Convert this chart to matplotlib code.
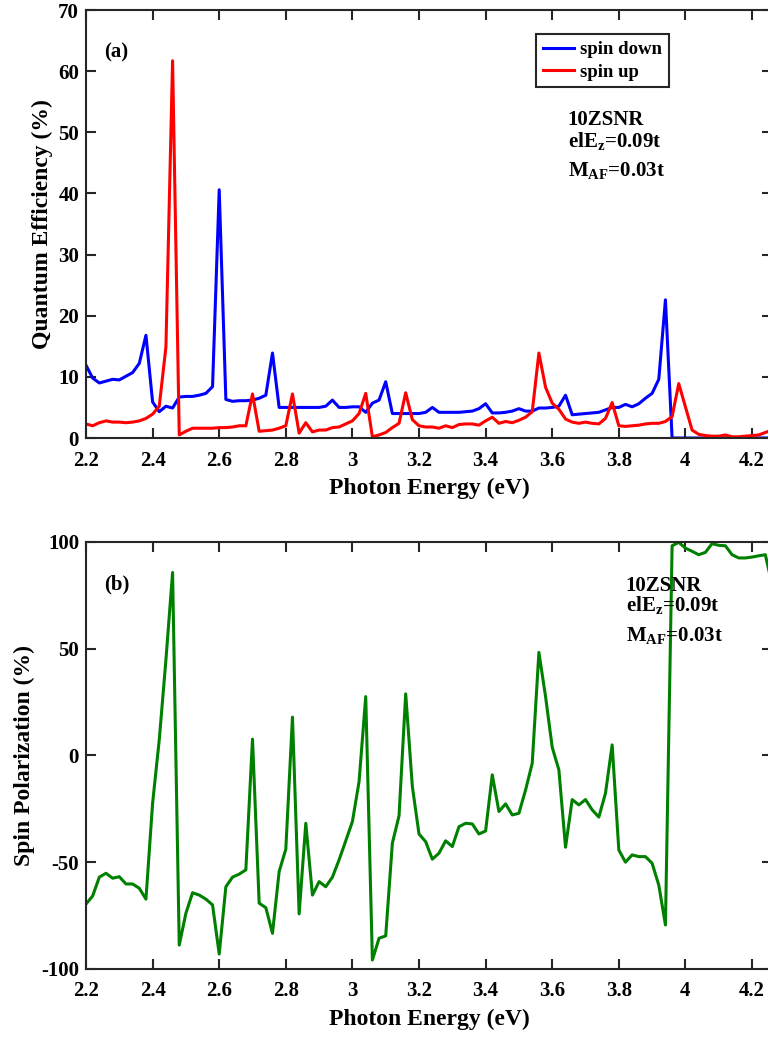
import numpy as np
import matplotlib
matplotlib.use('Agg')
import matplotlib.pyplot as plt

# ============================================================
# DONNEES
# ============================================================

energie = [2.20, 2.22, 2.24, 2.26, 2.28, 2.30, 2.32, 2.34, 2.36, 2.38,
           2.40, 2.42, 2.44, 2.46, 2.48, 2.50, 2.52, 2.54, 2.56, 2.58,
           2.60, 2.62, 2.64, 2.66, 2.68, 2.70, 2.72, 2.74, 2.76, 2.78,
           2.80, 2.82, 2.84, 2.86, 2.88, 2.90, 2.92, 2.94, 2.96, 2.98,
           3.00, 3.02, 3.04, 3.06, 3.08, 3.10, 3.12, 3.14, 3.16, 3.18,
           3.20, 3.22, 3.24, 3.26, 3.28, 3.30, 3.32, 3.34, 3.36, 3.38,
           3.40, 3.42, 3.44, 3.46, 3.48, 3.50, 3.52, 3.54, 3.56, 3.58,
           3.60, 3.62, 3.64, 3.66, 3.68, 3.70, 3.72, 3.74, 3.76, 3.78,
           3.80, 3.82, 3.84, 3.86, 3.88, 3.90, 3.92, 3.94, 3.96, 3.98,
           4.00, 4.02, 4.04, 4.06, 4.08, 4.10, 4.12, 4.14, 4.16, 4.18,
           4.20, 4.22, 4.24, 4.26]

spin_down = [11.9, 9.8, 9.0, 9.3, 9.6, 9.5, 10.1, 10.7, 12.2, 16.8,
             5.9, 4.3, 5.2, 4.9, 6.7, 6.8, 6.8, 7.0, 7.3, 8.4,
             40.6, 6.3, 6.0, 6.1, 6.1, 6.2, 6.5, 7.0, 13.9, 5.0,
             5.0, 5.0, 5.0, 5.0, 5.0, 5.0, 5.2, 6.2, 5.0, 5.0,
             5.1, 5.1, 4.2, 5.7, 6.2, 9.2, 4.0, 4.0, 4.0, 4.0,
             4.0, 4.2, 5.0, 4.2, 4.2, 4.2, 4.2, 4.3, 4.4, 4.8,
             5.6, 4.1, 4.1, 4.2, 4.4, 4.8, 4.4, 4.4, 4.9, 4.9,
             5.0, 5.2, 7.0, 3.8, 3.9, 4.0, 4.1, 4.2, 4.6, 5.0,
             5.0, 5.5, 5.1, 5.6, 6.5, 7.3, 9.6, 22.6, 0.0, 0.0,
             0.0, 0.0, 0.0, 0.0, 0.0, 0.0, 0.0, 0.0, 0.0, 0.0,
             0.0, 0.0, 0.0, 0.0]

spin_up = [2.3, 2.0, 2.5, 2.8, 2.6, 2.6, 2.5, 2.6, 2.8, 3.2,
           3.9, 5.2, 14.9, 61.7, 0.5, 1.1, 1.6, 1.6, 1.6, 1.6,
           1.7, 1.7, 1.8, 2.0, 2.0, 7.2, 1.1, 1.2, 1.3, 1.6,
           2.0, 7.2, 0.8, 2.5, 1.0, 1.3, 1.3, 1.7, 1.8, 2.3,
           2.8, 4.0, 7.3, 0.2, 0.5, 0.9, 1.7, 2.4, 7.4, 3.0,
           2.0, 1.8, 1.8, 1.6, 2.0, 1.7, 2.2, 2.3, 2.3, 2.1,
           2.8, 3.4, 2.4, 2.7, 2.5, 2.9, 3.4, 4.3, 13.9, 8.3,
           5.7, 4.7, 3.1, 2.6, 2.4, 2.6, 2.4, 2.3, 3.2, 5.8,
           2.0, 1.9, 2.0, 2.1, 2.3, 2.4, 2.4, 2.7, 3.5, 8.9,
           5.1, 1.3, 0.6, 0.4, 0.3, 0.3, 0.5, 0.2, 0.2, 0.3,
           0.4, 0.5, 0.9, 1.3]

polarisation = [-69.6, -65.8, -57.0, -55.2, -57.5, -56.8, -60.2, -60.2, -62.2, -67.3,
                -22.4, 7.3, 44.7, 85.6, -88.8, -73.9, -64.3, -65.4, -67.3, -70.0,
                -93.0, -61.5, -57.0, -55.6, -53.6, 7.6, -69.2, -71.3, -83.3, -54.4,
                -43.9, 17.9, -74.2, -31.8, -65.4, -59.1, -61.5, -57.0, -48.9, -40.0,
                -31.0, -12.3, 27.5, -95.8, -85.6, -84.5, -41.1, -28.3, 28.8, -14.6,
                -36.8, -40.4, -48.6, -45.8, -40.0, -42.7, -33.4, -31.8, -32.1, -36.8,
                -35.4, -9.1, -26.3, -22.7, -27.9, -27.1, -16.2, -3.7, 48.2, 27.5,
                3.8, -6.8, -43.0, -20.7, -23.2, -20.7, -25.5, -28.9, -17.7, 4.9,
                -44.3, -50.0, -46.6, -47.4, -47.4, -50.5, -60.7, -79.4, 98.1, 99.7,
                97.0, 95.5, 93.9, 95.0, 99.1, 98.3, 98.1, 93.9, 92.4, 92.4,
                92.8, 93.4, 93.9, 80.0]

x_ticks        = [2.2, 2.4, 2.6, 2.8, 3.0, 3.2, 3.4, 3.6, 3.8, 4.0, 4.2]
x_tick_labels  = ['2.2', '2.4', '2.6', '2.8', '3', '3.2', '3.4', '3.6', '3.8', '4', '4.2']
y_ticks_a      = [0, 10, 20, 30, 40, 50, 60, 70]
y_ticks_b      = [-100, -50, 0, 50, 100]

# ============================================================
# STYLE
# ============================================================

plt.rcParams['font.family'] = ['Liberation Serif', 'DejaVu Serif']
plt.rcParams['font.weight'] = 'bold'
plt.rcParams['axes.unicode_minus'] = False
plt.rcParams['mathtext.fontset'] = 'custom'
plt.rcParams['mathtext.rm'] = 'Liberation Serif:bold'
plt.rcParams['mathtext.bf'] = 'Liberation Serif:bold'
plt.rcParams['mathtext.it'] = 'Liberation Serif:bold'

bleu  = '#0000FF'
rouge = '#FF0000'
vert  = '#008000'
axe   = '#262626'

fs_tick  = 15
fs_label = 17
fs_txt   = 15
fs_leg   = 13.5

fig = plt.figure(figsize=(7.68, 10.38), dpi=100)

# le bord droit des axes tombe juste hors de l'image (figure coupee)
larg = 686 / 768
ax1 = fig.add_axes([86 / 768, 1 - 438 / 1038, larg, 428 / 1038])
ax2 = fig.add_axes([86 / 768, 1 - 969 / 1038, larg, 427.3 / 1038])


def habiller(ax):
    ax.set_xlim(2.2, 4.26)
    ax.set_xticks(x_ticks)
    ax.set_xticklabels(x_tick_labels)
    ax.tick_params(direction='in', length=7, width=1.5, top=True, right=True,
                   labelsize=fs_tick, colors=axe, labelcolor='black', pad=5)
    ax.tick_params(axis='x', pad=9)
    for lab in ax.get_xticklabels() + ax.get_yticklabels():
        lab.set_fontweight('bold')
    for spine in ax.spines.values():
        spine.set_edgecolor(axe)
        spine.set_linewidth(1.5)
    ax.set_xlabel('Photon Energy (eV)', fontsize=fs_label, fontweight='bold', labelpad=5)


# --- (a) rendement quantique ---
ax1.plot(energie, spin_down, color=bleu, linewidth=2.2, label='spin down')
ax1.plot(energie, spin_up, color=rouge, linewidth=2.2, label='spin up')
ax1.set_ylim(0, 70)
ax1.set_yticks(y_ticks_a)
habiller(ax1)
ax1.set_ylabel('Quantum Efficiency (%)', fontsize=fs_label, fontweight='bold', labelpad=4)

leg = ax1.legend(loc='upper left', bbox_to_anchor=(0.656, 0.943), fontsize=fs_leg,
                 handlelength=1.7, handletextpad=0.3, borderpad=0.35,
                 labelspacing=0.3, fancybox=False, framealpha=1, borderaxespad=0)
leg.get_frame().set_edgecolor(axe)
leg.get_frame().set_linewidth(1.5)
for t in leg.get_texts():
    t.set_fontweight('bold')

ax1.text(2.254, 62.3, '(a)', fontsize=fs_txt, fontweight='bold', va='baseline')
ax1.text(3.647, 51.2, '10ZSNR', fontsize=fs_txt, fontweight='bold', va='baseline')
ax1.text(3.647, 47.6, r'elE$_{\mathrm{z}}$=0.09t', fontsize=fs_txt, fontweight='bold', va='baseline')
ax1.text(3.647, 42.9, r'M$_{\mathrm{AF}}$=0.03t', fontsize=fs_txt, fontweight='bold', va='baseline')

# --- (b) polarisation de spin ---
ax2.plot(energie, polarisation, color=vert, linewidth=2.2)
ax2.set_ylim(-100, 100)
ax2.set_yticks(y_ticks_b)
habiller(ax2)
ax2.set_ylabel('Spin Polarization (%)', fontsize=fs_label, fontweight='bold', labelpad=4)

ax2.text(2.254, 77.5, '(b)', fontsize=fs_txt, fontweight='bold', va='baseline')
ax2.text(3.821, 77.0, '10ZSNR', fontsize=fs_txt, fontweight='bold', va='baseline')
ax2.text(3.821, 67.4, r'elE$_{\mathrm{z}}$=0.09t', fontsize=fs_txt, fontweight='bold', va='baseline')
ax2.text(3.821, 53.3, r'M$_{\mathrm{AF}}$=0.03t', fontsize=fs_txt, fontweight='bold', va='baseline')

plt.savefig('out.png', dpi=100, facecolor='white')
